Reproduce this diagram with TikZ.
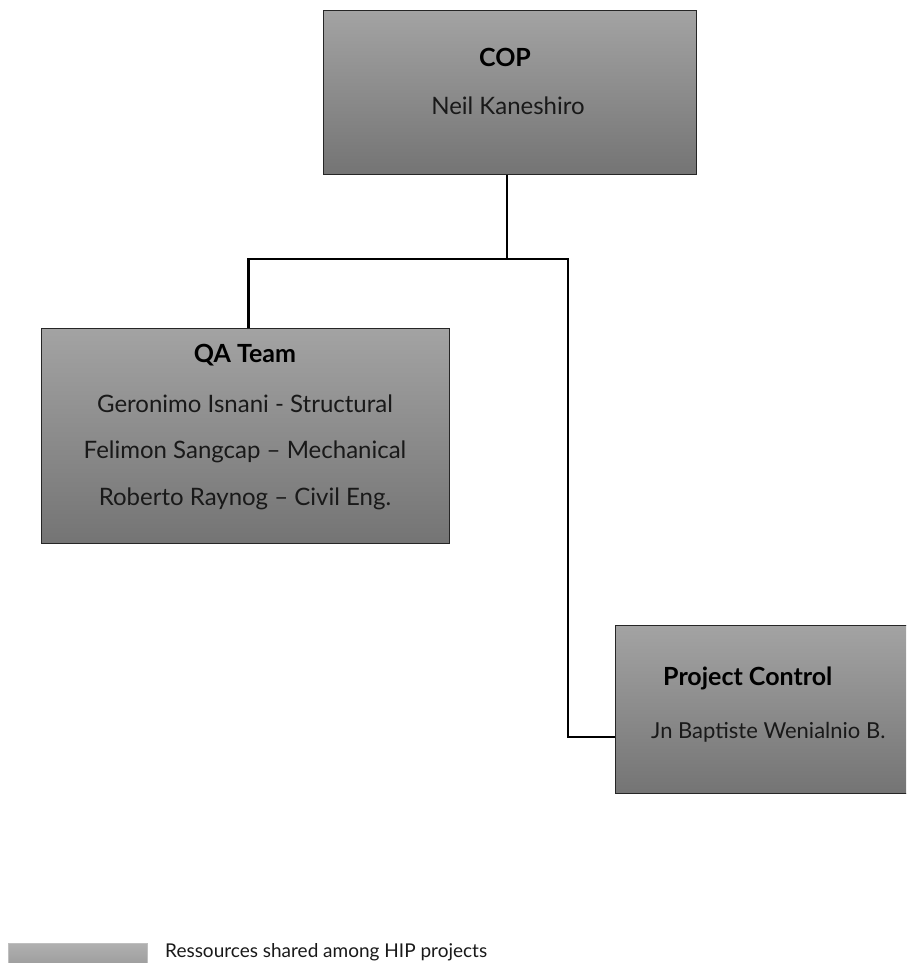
\documentclass[tikz,border=0pt]{standalone}
\usepackage{fontspec}
\setmainfont{Lato}
\usetikzlibrary{positioning}
\definecolor{boxtop}{RGB}{163,163,163}
\definecolor{boxbot}{RGB}{116,116,116}
\definecolor{keytop}{RGB}{176,176,176}
\definecolor{keybot}{RGB}{150,150,150}
\begin{document}
\begin{tikzpicture}[x=1pt,y=-1pt,
  orgbox/.style={draw=black!85,line width=1.3pt,top color=boxtop,bottom color=boxbot,anchor=north west,inner sep=0pt},
  head/.style={anchor=base,inner sep=0pt,font=\fontsize{25}{30}\selectfont\bfseries},
  member/.style={anchor=base,inner sep=0pt,text=black!90,font=\fontsize{24}{28}\selectfont},
  link/.style={line width=2.8pt,black}]
\useasboundingbox (0,0) rectangle (906,963);
\clip (0,0) rectangle (906,963);
% boxes
\node[orgbox,minimum width=373pt,minimum height=164pt] at (323,10) (cop) {};
\node[orgbox,minimum width=408pt,minimum height=215pt] at (41,328) (qa) {};
\node[orgbox,minimum width=300pt,minimum height=168pt] at (615,625) (pc) {};
% texts
\node[head] at (505,67) (copname) {COP};
\node[member] at (508,115) (copman) {Neil Kaneshiro};
\node[head] at (245,362) (qaname) {QA Team};
\node[member] at (245,412) (qaone) {Geronimo Isnani - Structural};
\node[member] at (245,458) (qatwo) {Felimon Sangcap – Mechanical};
\node[member] at (245,505) (qathree) {Roberto Raynog – Civil Eng.};
\node[head,anchor=base west] at (663,685) (pcname) {Project Control};
\node[member,anchor=base west,font=\fontsize{22}{26}\selectfont] at (651,738) (pcman) {Jn Baptiste Wenialnio B.};
% connectors
\coordinate (split) at (507,259);
\coordinate (elbow) at (568,259);
\coordinate (pcin) at (615,737);
\draw[link] (split |- cop.south) -- (split);
\draw[link] ([xshift=3pt]qa.north) |- (split) -- (elbow) |- (pcin);
% key
\node[draw=black!25,line width=0.6pt,top color=keytop,bottom color=keybot,anchor=north west,
      minimum width=139pt,minimum height=30pt,inner sep=0pt] at (8,943) (key) {};
\node[member,anchor=base west,font=\fontsize{19}{22}\selectfont] at (165,957) (keytext) {Ressources shared among HIP projects};
\end{tikzpicture}
\end{document}
